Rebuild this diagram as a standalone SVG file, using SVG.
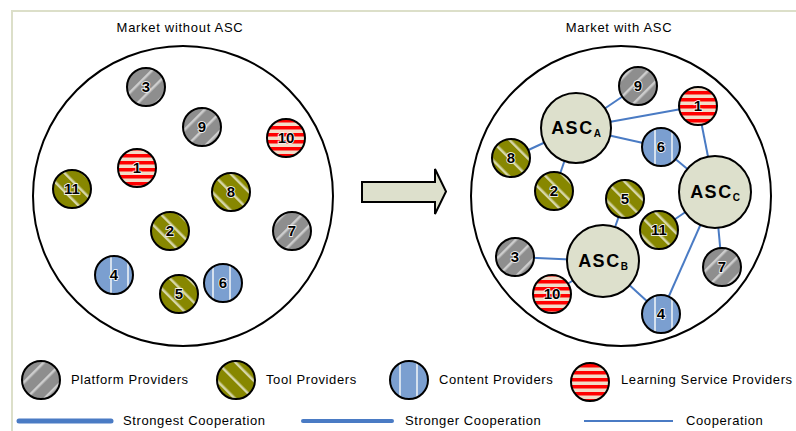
<svg xmlns="http://www.w3.org/2000/svg" width="796" height="431" viewBox="0 0 796 431">
<style>
.title{font-family:"Liberation Sans",Arial,sans-serif;font-size:13px;letter-spacing:0.7px;text-anchor:middle;fill:#000}
.leg{font-family:"Liberation Sans",Arial,sans-serif;font-size:13px;letter-spacing:0.6px;fill:#000}
.big{fill:#fff;stroke:#000;stroke-width:2}
.n{stroke:#000;stroke-width:2}
.num{font-family:"Liberation Sans",Arial,sans-serif;font-size:15px;font-weight:bold;text-anchor:middle;fill:#000;stroke:#fff;stroke-width:1.5;paint-order:stroke}
.asc{fill:#dde0cc;stroke:#000;stroke-width:2}
.asct{font-family:"Liberation Sans",Arial,sans-serif;font-size:18px;font-weight:bold;letter-spacing:1.5px;text-anchor:middle;fill:#000}
.sub{font-size:10px;letter-spacing:0}
.c{stroke:#4a7bc4;stroke-width:2;fill:none}
.plat{fill:url(#pPlat)}
.tool{fill:url(#pTool)}
.cont{fill:url(#pCont)}
.lear{fill:url(#pLear)}
</style>
<defs>
<pattern id="pPlat" patternUnits="userSpaceOnUse" width="13" height="13" patternTransform="rotate(45)">
<rect width="13" height="13" fill="#8e8e8e"/>
<rect x="0" width="2.5" height="13" fill="#cdcdcd"/>
</pattern>
<pattern id="pTool" patternUnits="userSpaceOnUse" width="13" height="13" patternTransform="rotate(-45)">
<rect width="13" height="13" fill="#878700"/>
<rect x="0" width="2.5" height="13" fill="#d6d6a8"/>
</pattern>
<pattern id="pCont" patternUnits="userSpaceOnUse" width="17" height="17">
<rect width="17" height="17" fill="#7b9fd0"/>
<rect x="8" width="2" height="17" fill="#d4e0ee"/>
</pattern>
<pattern id="pLear" patternUnits="userSpaceOnUse" width="7" height="7">
<rect width="7" height="7" fill="#f2dcc8"/>
<rect y="0" width="7" height="3.5" fill="#ff0000"/>
</pattern>
</defs>
<rect width="796" height="431" fill="#fff"/>
<rect x="12" y="11" width="800" height="440" fill="none" stroke="#dcdfc9" stroke-width="2"/>

<text class="title" x="180" y="32">Market without ASC</text>
<text class="title" x="619" y="32">Market with ASC</text>

<g id="market-without">
<circle class="big" cx="183" cy="196" r="150"/>
</g>
<g id="market-with">
<circle class="big" cx="621" cy="196" r="150"/>
</g>

<g id="arrow">
<path d="M362,182 L435,182 L435,169 L446,191.5 L435,214 L435,202 L362,202 Z" fill="#dde0cc" stroke="#000" stroke-width="2" stroke-linejoin="miter"/>
</g>

<!-- left nodes -->
<g id="L3"><circle class="n plat" cx="146" cy="87" r="19"/><text class="num" x="146" y="92">3</text></g>
<g id="L9"><circle class="n plat" cx="202" cy="127" r="19"/><text class="num" x="202" y="132">9</text></g>
<g id="L10"><circle class="n lear" cx="286" cy="138" r="19"/><text class="num" x="286" y="143">10</text></g>
<g id="L1"><circle class="n lear" cx="137" cy="168" r="19"/><text class="num" x="137" y="173">1</text></g>
<g id="L11"><circle class="n tool" cx="72" cy="189" r="19"/><text class="num" x="72" y="194">11</text></g>
<g id="L8"><circle class="n tool" cx="231" cy="192" r="19"/><text class="num" x="231" y="197">8</text></g>
<g id="L2"><circle class="n tool" cx="170" cy="231" r="19"/><text class="num" x="170" y="236">2</text></g>
<g id="L7"><circle class="n plat" cx="292" cy="231" r="19"/><text class="num" x="292" y="236">7</text></g>
<g id="L4"><circle class="n cont" cx="114" cy="275" r="19"/><text class="num" x="114" y="280">4</text></g>
<g id="L5"><circle class="n tool" cx="179" cy="294" r="19"/><text class="num" x="179" y="299">5</text></g>
<g id="L6"><circle class="n cont" cx="223" cy="283" r="19"/><text class="num" x="223" y="288">6</text></g>

<!-- right connectors -->
<g id="connectors">
<line class="c" x1="576" y1="128" x2="638" y2="86"/>
<line class="c" x1="576" y1="128" x2="698" y2="106"/>
<line class="c" x1="576" y1="128" x2="661" y2="147"/>
<line class="c" x1="576" y1="128" x2="511" y2="158"/>
<line class="c" x1="576" y1="128" x2="554" y2="191"/>
<line class="c" x1="698" y1="106" x2="715" y2="192"/>
<line class="c" x1="661" y1="147" x2="715" y2="192"/>
<line class="c" x1="715" y1="192" x2="659" y2="230"/>
<line class="c" x1="715" y1="192" x2="722" y2="267"/>
<line class="c" x1="715" y1="192" x2="661" y2="314"/>
<line class="c" x1="625" y1="199" x2="603" y2="261"/>
<line class="c" x1="603" y1="261" x2="515" y2="257"/>
<line class="c" x1="603" y1="261" x2="552" y2="294"/>
<line class="c" x1="603" y1="261" x2="661" y2="314"/>
</g>

<!-- right nodes -->
<g id="ASC-A"><circle class="asc" cx="576" cy="128" r="35"/><text class="asct" x="576" y="134">ASC<tspan class="sub" dy="3">A</tspan></text></g>
<g id="ASC-C"><circle class="asc" cx="715" cy="192" r="36"/><text class="asct" x="715" y="198">ASC<tspan class="sub" dy="3">C</tspan></text></g>
<g id="ASC-B"><circle class="asc" cx="603" cy="261" r="36"/><text class="asct" x="603" y="267">ASC<tspan class="sub" dy="3">B</tspan></text></g>
<g id="R9"><circle class="n plat" cx="638" cy="86" r="19"/><text class="num" x="638" y="91">9</text></g>
<g id="R1"><circle class="n lear" cx="698" cy="106" r="19"/><text class="num" x="698" y="111">1</text></g>
<g id="R6"><circle class="n cont" cx="661" cy="147" r="19"/><text class="num" x="661" y="152">6</text></g>
<g id="R8"><circle class="n tool" cx="511" cy="158" r="19"/><text class="num" x="511" y="163">8</text></g>
<g id="R2"><circle class="n tool" cx="554" cy="191" r="19"/><text class="num" x="554" y="196">2</text></g>
<g id="R5"><circle class="n tool" cx="625" cy="199" r="19"/><text class="num" x="625" y="204">5</text></g>
<g id="R11"><circle class="n tool" cx="659" cy="230" r="19"/><text class="num" x="659" y="235">11</text></g>
<g id="R3"><circle class="n plat" cx="515" cy="257" r="19"/><text class="num" x="515" y="262">3</text></g>
<g id="R10"><circle class="n lear" cx="552" cy="294" r="19"/><text class="num" x="552" y="299">10</text></g>
<g id="R7"><circle class="n plat" cx="722" cy="267" r="19"/><text class="num" x="722" y="272">7</text></g>
<g id="R4"><circle class="n cont" cx="661" cy="314" r="19"/><text class="num" x="661" y="319">4</text></g>

<!-- legend -->
<g id="legend-platform"><circle class="n plat" cx="41" cy="380" r="19"/><text class="leg" x="71" y="384">Platform Providers</text></g>
<g id="legend-tool"><circle class="n tool" cx="236" cy="380" r="19"/><text class="leg" x="266" y="384">Tool Providers</text></g>
<g id="legend-content"><circle class="n cont" cx="409" cy="380" r="19"/><text class="leg" x="439" y="384">Content Providers</text></g>
<g id="legend-learning"><circle class="n lear" cx="590" cy="382" r="19"/><text class="leg" x="621" y="384">Learning Service Providers</text></g>
<g id="legend-lines">
<line x1="19" y1="421" x2="111" y2="421" stroke="#4a7bc4" stroke-width="5" stroke-linecap="round"/>
<text class="leg" x="123" y="425">Strongest Cooperation</text>
<line x1="303" y1="421" x2="392" y2="421" stroke="#4a7bc4" stroke-width="4" stroke-linecap="round"/>
<text class="leg" x="405" y="425">Stronger Cooperation</text>
<line x1="584" y1="421" x2="673" y2="421" stroke="#4a7bc4" stroke-width="2"/>
<text class="leg" x="686" y="425">Cooperation</text>
</g>
</svg>
